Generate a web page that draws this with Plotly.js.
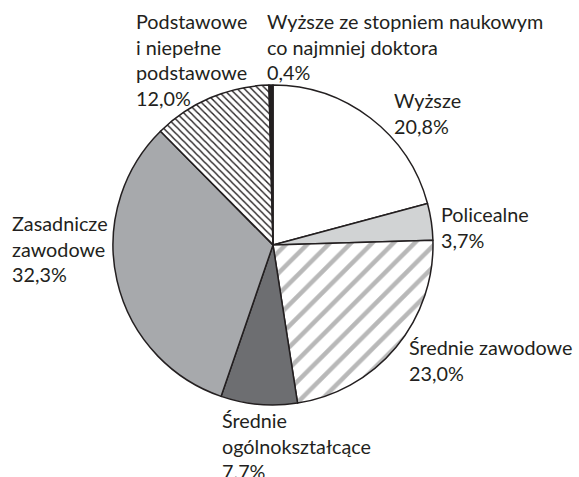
<!DOCTYPE html>
<html>
<head>
<meta charset="utf-8">
<script src="https://cdn.plot.ly/plotly-3.0.1.min.js"></script>
<style>html,body{margin:0;padding:0;background:#fff;}#chart{width:579px;height:477px;}</style>
</head>
<body>
<div id="chart"></div>
<script>
const categories = [
  "Wyższe",
  "Policealne",
  "Średnie zawodowe",
  "Średnie<br>ogólnokształcące",
  "Zasadnicze<br>zawodowe",
  "Podstawowe<br>i niepełne<br>podstawowe",
  "Wyższe ze stopniem naukowym<br>co najmniej doktora"
];
const values = [20.8, 3.7, 23.0, 7.7, 32.3, 12.0, 0.4];
const valueLabels = ["20,8%", "3,7%", "23,0%", "7.7%", "32,3%", "12,0%", "0,4%"];

const fillColors = ['#ffffff', '#d1d3d4', '#ffffff', '#6d6e71', '#a7a9ac', '#ffffff', '#231f20'];
const patternShapes = ['', '', '/', '', '', '\\', ''];
const patternFg = ['#000000', '#000000', '#b8b8b8', '#000000', '#000000', '#231f20', '#000000'];
const patternSize = [8, 8, 15, 8, 8, 5, 8];
const patternSolidity = [0.3, 0.3, 0.3, 0.3, 0.3, 0.28, 0.3];

// label box placement (paper px, left/top)
const labelX = [392, 439, 407, 220, 10, 134, 265];
const labelTop = [86, 200, 333, 406, 209, 7, 7];

const W = 579, H = 477;
const annotations = categories.map((c, i) => ({
  text: c + '<br>' + valueLabels[i],
  xref: 'paper', yref: 'paper',
  x: labelX[i] / W, y: 1 - labelTop[i] / H,
  xanchor: 'left', yanchor: 'top', align: 'left',
  showarrow: false,
  font: {family: 'Lato, sans-serif', size: 19.8, color: '#231f20'}
}));

const trace = {
  type: 'pie',
  labels: categories,
  values: values,
  sort: false,
  direction: 'clockwise',
  rotation: 0,
  textinfo: 'none',
  hoverinfo: 'label+value',
  domain: {x: [113 / W, 433 / W], y: [1 - 405 / H, 1 - 85 / H]},
  marker: {
    colors: fillColors,
    line: {color: '#231f20', width: 1.5},
    pattern: {
      shape: patternShapes,
      fgcolor: patternFg,
      bgcolor: fillColors,
      size: patternSize,
      solidity: patternSolidity
    }
  }
};

Plotly.newPlot('chart', [trace], {
  width: W, height: H,
  margin: {l: 0, r: 0, t: 0, b: 0},
  showlegend: false,
  paper_bgcolor: '#ffffff',
  annotations: annotations
}, {displayModeBar: false, staticPlot: true});
</script>
</body>
</html>
